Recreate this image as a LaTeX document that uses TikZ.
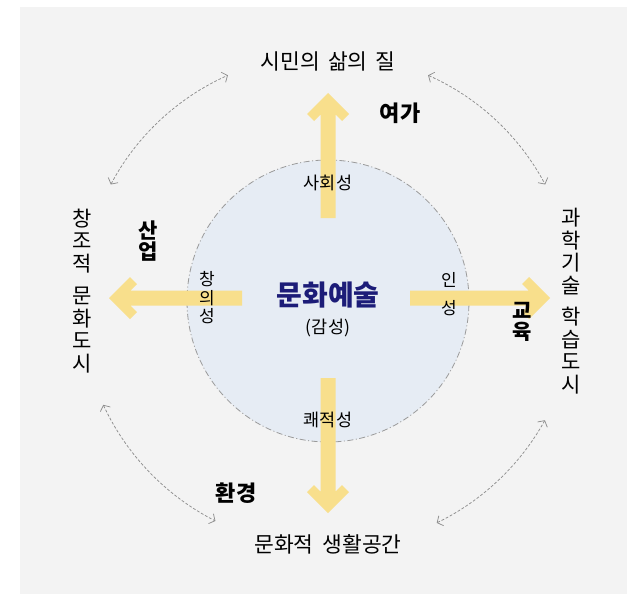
\documentclass[tikz,border=0pt]{standalone}
\usepackage{fontspec}
\setmainfont{Noto Sans CJK KR}
\usetikzlibrary{arrows.meta}
\definecolor{bgc}{HTML}{F3F3F3}
\definecolor{circfill}{HTML}{E6ECF4}
\definecolor{circline}{HTML}{9A9A9A}
\definecolor{arrowc}{HTML}{F8DF8C}
\definecolor{navyc}{RGB}{28,28,120}
\definecolor{dashc}{HTML}{8E8E8E}
\newcommand{\blockarr}[3]{%
  \fill[arrowc, shift={(#1)}, rotate=#2]
    (0,-7.5) -- (#3-21.5,-7.5) -- (#3-28,-14) -- (#3-21,-21) -- (#3,0)
    -- (#3-21,21) -- (#3-28,14) -- (#3-21.5,7.5) -- (0,7.5) -- cycle;}
\begin{document}
\begin{tikzpicture}[x=1pt,y=-1pt,
  every node/.style={inner sep=0pt, outer sep=0pt},
  big/.style={font=\fontsize{21.5}{24}\selectfont},
  mid/.style={font=\fontsize{17.5}{19}\selectfont},
  boldlab/.style={font=\fontsize{22}{24}\selectfont\bfseries},
  vtext/.style={align=center, font=\fontsize{21}{22.5}\selectfont},
  vbold/.style={align=center, font=\fontsize{21}{21}\selectfont\bfseries},
  vsmall/.style={align=center, font=\fontsize{17}{18.5}\selectfont},
  dasharc/.style={dashc, line width=0.75pt, dash pattern=on 2.8pt off 1.8pt,
    {Straight Barb[length=4.5pt,width=11pt]}-{Straight Barb[length=4.5pt,width=11pt]}}]
\useasboundingbox (0,0) rectangle (627,594);
\fill[bgc] (20,7) rectangle (627,594);

% centre circle
\coordinate (c) at (328,300);
\node[circle, minimum size=282pt, fill=circfill, draw=circline, line width=0.8pt,
  dash pattern=on 6pt off 2.5pt on 1pt off 2.5pt] (circ) at (328,301) {};

% yellow block arrows
\coordinate (upS) at (328,218);
\coordinate (dnS) at (328,378);
\coordinate (lfS) at (242,298);
\coordinate (rtS) at (410,298);
\blockarr{upS}{90}{125}
\blockarr{dnS}{-90}{135}
\blockarr{lfS}{180}{133}
\blockarr{rtS}{0}{140}

% curved dashed double arrows
\coordinate (tlA) at ([shift={(c)}]-152:246);
\coordinate (trA) at ([shift={(c)}]-66:246);
\coordinate (blA) at ([shift={(c)}]-205:248);
\coordinate (brA) at ([shift={(c)}]-296:248);
\draw[dasharc] (tlA) arc[start angle=-152, end angle=-114, radius=246];
\draw[dasharc] (trA) arc[start angle=-66, end angle=-28, radius=246];
\draw[dasharc] (blA) arc[start angle=-205, end angle=-243, radius=248];
\draw[dasharc] (brA) arc[start angle=-296, end angle=-331, radius=248];

% outer labels
\node[big] (topL) at (328,61) {시민의\hspace{8pt}삶의\hspace{8pt}질};
\node[big] (botL) at (328,544) {문화적\hspace{9pt}생활공간};
\node[vtext] (leftL) at (82,291) {창\\조\\적\\[10pt]문\\화\\도\\시};
\node[vtext] (rightL) at (571,301) {과\\학\\기\\술\\[9pt]학\\습\\도\\시};

% bold domain labels
\node[boldlab] (yeoga) at (400,113) {여가};
\node[boldlab] (hwan) at (236,493) {환경};
\node[vbold] (saneop) at (148,241) {산\\업};
\node[vbold] (gyoyuk) at (522,322) {교\\육};

% inner labels
\node[font=\fontsize{28}{30}\selectfont\bfseries, text=navyc] (main) at (328,295) {문화예술};
\node[mid] (gamseong) at (328,328) {(감성)};
\node[mid] (sahoe) at (328,183) {사회성};
\node[mid] (kwae) at (328,420) {쾌적성};
\node[vsmall] (chang) at (207,298) {창\\의\\성};
\node[vsmall] (inseong) at (449,294) {인\\[9pt]성};
\end{tikzpicture}
\end{document}
